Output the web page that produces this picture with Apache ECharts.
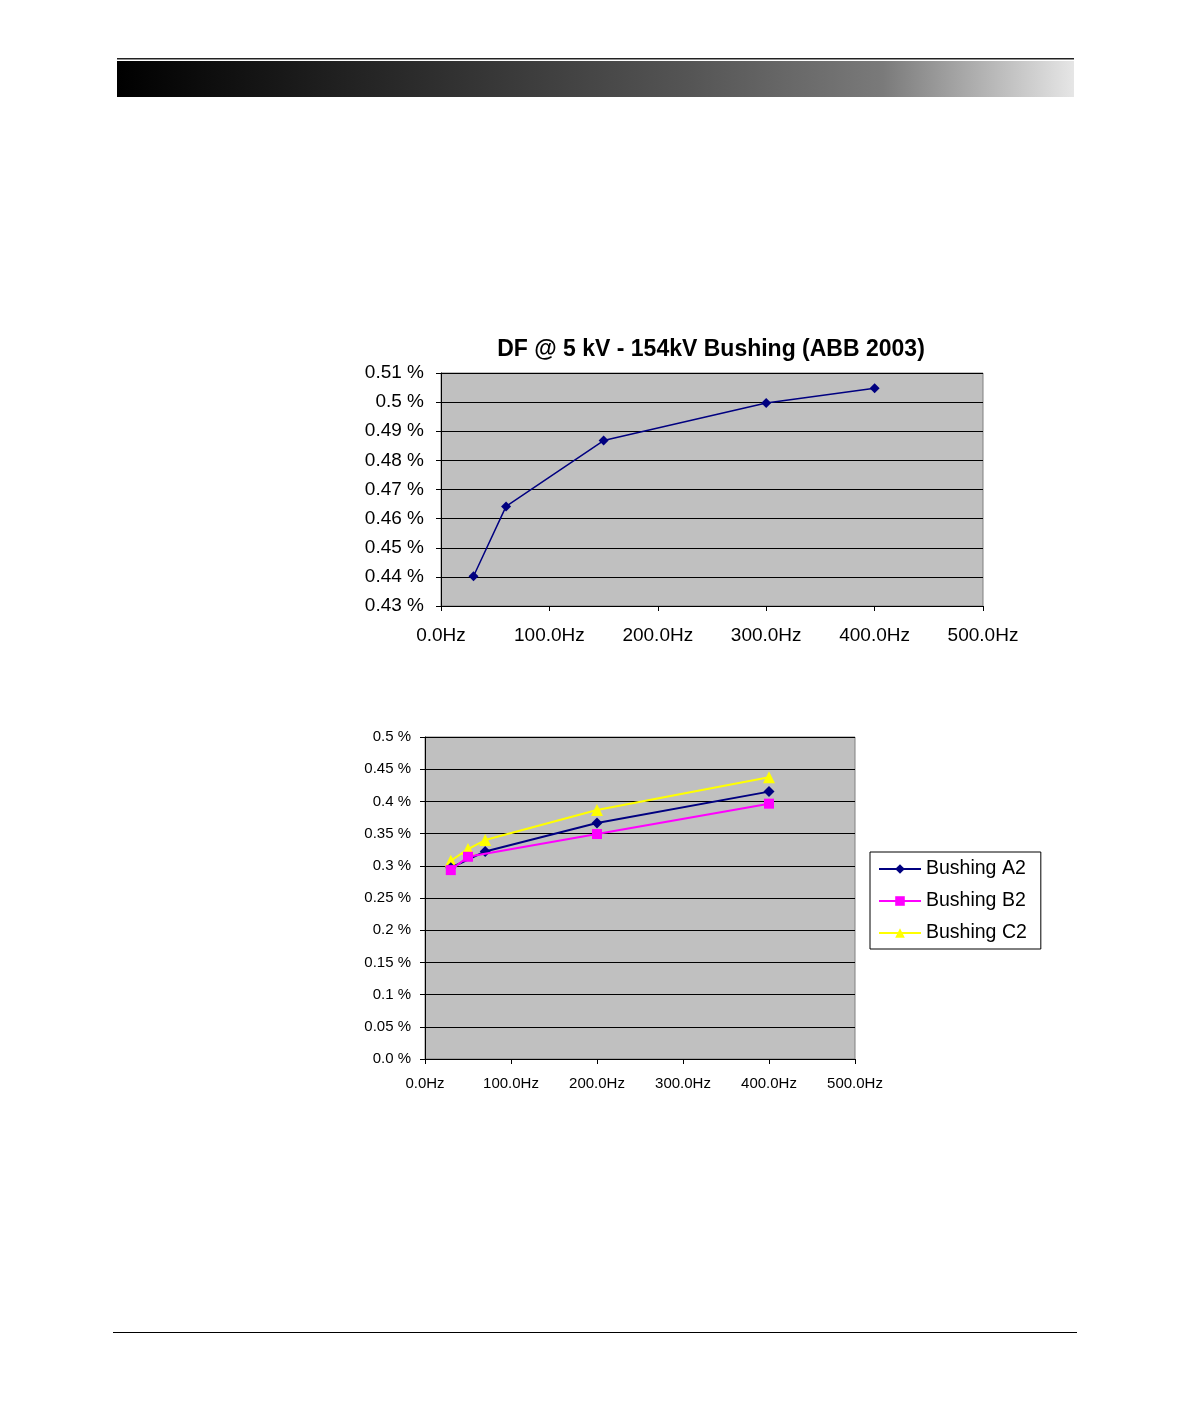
<!DOCTYPE html>
<html><head><meta charset="utf-8">
<script src="https://cdn.jsdelivr.net/npm/echarts@6/dist/echarts.min.js"></script>
<style>html,body{margin:0;padding:0;background:#fff}#c{width:1190px;height:1418px}</style>
</head><body><div id="c"></div>
<script>
const topTitle = 'DF @ 5 kV - 154kV Bushing (ABB 2003)';
const topFreq = [30, 60, 150, 300, 400];
const topDF = [0.4402, 0.4642, 0.4868, 0.4997, 0.5048];

const seriesNames = ['Bushing A2', 'Bushing B2', 'Bushing C2'];
const a2Freq = [30, 70, 200, 400];
const a2DF = [0.297, 0.3223, 0.3664, 0.4152];
const b2Freq = [30, 50, 200, 400];
const b2DF = [0.2933, 0.314, 0.3493, 0.3965];
const c2Freq = [30, 50, 70, 200, 400];
const c2DF = [0.3078, 0.326, 0.340, 0.3867, 0.4375];

const pairs = (xs, ys) => xs.map((x, i) => [x, ys[i]]);
const font = '"Liberation Sans", Arial, sans-serif';
const hz = v => v.toFixed(1) + 'Hz';
const pct = v => (v === 0 ? '0.0' : String(parseFloat(v.toFixed(2)))) + ' %';

const chart = echarts.init(document.getElementById('c'), null, {renderer: 'canvas'});
const axisCommon = {
  axisLine: {show: true, lineStyle: {color: '#000', width: 1}},
  axisTick: {show: true, length: 5, lineStyle: {color: '#000'}},
  splitLine: {show: false}
};
chart.setOption({
  animation: false,
  backgroundColor: '#fff',
  textStyle: {fontFamily: font},
  title: {
    text: topTitle, left: 706, top: 333, textAlign: 'center',
    textStyle: {fontFamily: font, fontSize: 23, fontWeight: 'bold', color: '#000'}
  },
  graphic: [
    {type: 'rect', shape: {x: 117, y: 58, width: 957, height: 1.5}, style: {fill: '#222'}},
    {type: 'rect', shape: {x: 117, y: 61, width: 957, height: 36},
     style: {fill: new echarts.graphic.LinearGradient(0, 0, 1, 0, [
       {offset: 0, color: '#000'}, {offset: 0.3, color: '#2a2a2a'},
       {offset: 0.6, color: '#555'}, {offset: 0.8, color: '#7a7a7a'}, {offset: 1, color: '#e6e6e6'}])}},
    {type: 'rect', shape: {x: 113, y: 1332, width: 964, height: 1}, style: {fill: '#000'}}
  ],
  legend: {
    data: seriesNames, orient: 'vertical', left: 870, top: 852,
    padding: [7, 14, 6, 8], itemGap: 12, itemWidth: 42, itemHeight: 12,
    backgroundColor: '#fff', borderColor: '#000', borderWidth: 1, borderRadius: 0,
    textStyle: {fontFamily: font, fontSize: 19.5, color: '#000', lineHeight: 20}
  },
  grid: [
    {left: 441, top: 373, width: 542, height: 233, show: true, backgroundColor: '#c0c0c0', borderColor: '#808080', borderWidth: 1},
    {left: 425, top: 737, width: 430, height: 322, show: true, backgroundColor: '#c0c0c0', borderColor: '#808080', borderWidth: 1}
  ],
  xAxis: [
    Object.assign({type: 'value', gridIndex: 0, min: 0, max: 500, interval: 100,
      axisLabel: {formatter: hz, fontSize: 19, color: '#000', margin: 20, fontFamily: font}}, axisCommon),
    Object.assign({type: 'value', gridIndex: 1, min: 0, max: 500, interval: 100,
      axisLabel: {formatter: hz, fontSize: 15, color: '#000', margin: 17, fontFamily: font}}, axisCommon)
  ],
  yAxis: [
    Object.assign({}, axisCommon, {type: 'value', gridIndex: 0, min: 0.43, max: 0.51, interval: 0.01,
      axisLabel: {formatter: pct, fontSize: 19, color: '#000', margin: 17, fontFamily: font},
      splitLine: {show: true, lineStyle: {color: '#000', width: 1}}}),
    Object.assign({}, axisCommon, {type: 'value', gridIndex: 1, min: 0, max: 0.5, interval: 0.05,
      axisLabel: {formatter: pct, fontSize: 15, color: '#000', margin: 14, fontFamily: font},
      splitLine: {show: true, lineStyle: {color: '#000', width: 1}}})
  ],
  series: [
    {name: 'top', type: 'line', xAxisIndex: 0, yAxisIndex: 0, data: pairs(topFreq, topDF),
     color: '#000080', lineStyle: {width: 1.5, color: '#000080'}, symbol: 'diamond', symbolSize: 10,
     itemStyle: {color: '#000080'}},
    {name: seriesNames[0], type: 'line', xAxisIndex: 1, yAxisIndex: 1, data: pairs(a2Freq, a2DF),
     color: '#000080', lineStyle: {width: 2, color: '#000080'}, symbol: 'diamond', symbolSize: 11,
     itemStyle: {color: '#000080'}, z: 3},
    {name: seriesNames[1], type: 'line', xAxisIndex: 1, yAxisIndex: 1, data: pairs(b2Freq, b2DF),
     color: '#ff00ff', lineStyle: {width: 2, color: '#ff00ff'}, symbol: 'rect', symbolSize: 10,
     itemStyle: {color: '#ff00ff'}, z: 4},
    {name: seriesNames[2], type: 'line', xAxisIndex: 1, yAxisIndex: 1, data: pairs(c2Freq, c2DF),
     color: '#ffff00', lineStyle: {width: 2, color: '#ffff00'}, symbol: 'triangle', symbolSize: 12,
     itemStyle: {color: '#ffff00'}, z: 2}
  ]
});
</script></body></html>
